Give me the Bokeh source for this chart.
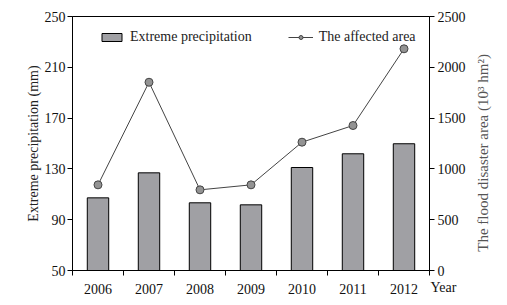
import math
from bokeh.plotting import figure
from bokeh.models import (Range1d, LinearAxis, FixedTicker, Legend, LegendItem)
from bokeh.embed import file_html
from bokeh.resources import INLINE

years = ["2006", "2007", "2008", "2009", "2010", "2011", "2012"]
precip = [107.2, 126.9, 103.3, 101.7, 131.1, 141.9, 149.8]
area = [843, 1853, 794, 843, 1263, 1427, 2182]
left_ticks = [50, 90, 130, 170, 210, 250]
right_ticks = [0, 500, 1000, 1500, 2000, 2500]

FONT = "Liberation Serif"
xs = [i + 0.5 for i in range(len(years))]

p = figure(frame_width=357, frame_height=254, output_backend="svg", toolbar_location=None,
           x_range=Range1d(0, len(years)), y_range=Range1d(50, 250),
           min_border_left=72, min_border_right=70, min_border_top=16, min_border_bottom=30)
p.extra_y_ranges = {"right": Range1d(0, 2500)}
p.xgrid.visible = False
p.ygrid.visible = False
p.outline_line_color = "black"
p.outline_line_width = 1
p.background_fill_color = "white"
p.border_fill_color = "white"

bars = p.vbar(x=xs, top=precip, bottom=50, width=0.42, fill_color="#a0a0a4",
              line_color="black", line_width=1)
ln = p.line(x=xs, y=area, y_range_name="right", line_color="#444444", line_width=1)
pts = p.scatter(x=xs, y=area, y_range_name="right", size=8, fill_color="#939393",
                line_color="#444444", line_width=1)

# x axis
xa = p.xaxis[0]
xa.ticker = FixedTicker(ticks=xs, minor_ticks=list(range(len(years) + 1)))
xa.major_label_overrides = {x: y for x, y in zip(xs, years)}
xa.major_tick_out = 0
xa.major_tick_in = 0
xa.minor_tick_out = 5
xa.minor_tick_in = 0
xa.major_label_standoff = 8
xa.major_label_text_font = FONT
xa.major_label_text_font_size = "14px"
xa.major_label_text_color = "#111111"
xa.axis_line_color = "black"
xa.axis_label = "\u00a0" * 8 + "Year"
xa.axis_label_align = "end"
xa.axis_label_standoff = -17
xa.axis_label_text_font = FONT
xa.axis_label_text_font_size = "14px"
xa.axis_label_text_font_style = "normal"
xa.axis_label_text_color = "#111111"

# left axis
ya = p.yaxis[0]
ya.ticker = FixedTicker(ticks=left_ticks)
ya.major_tick_out = 5
ya.major_tick_in = 0
ya.minor_tick_out = 0
ya.major_label_standoff = 2
ya.major_label_text_font = FONT
ya.major_label_text_font_size = "14px"
ya.major_label_text_color = "#111111"
ya.axis_label = "Extreme precipitation (mm)"
ya.axis_label_text_font = FONT
ya.axis_label_text_font_size = "14px"
ya.axis_label_text_font_style = "normal"
ya.axis_label_text_color = "#222222"
ya.axis_label_standoff = 1

# right axis
ra = LinearAxis(y_range_name="right", ticker=FixedTicker(ticks=right_ticks))
ra.major_tick_out = 5
ra.major_tick_in = 0
ra.minor_tick_out = 0
ra.major_label_standoff = 3
ra.major_label_text_font = FONT
ra.major_label_text_font_size = "14px"
ra.major_label_text_color = "#111111"
ra.axis_label = "\u00a0" * 5 + "The flood disaster area (10³ hm²)"
ra.axis_label_orientation = math.pi / 2
ra.axis_label_align = "start"
ra.axis_label_text_font = FONT
ra.axis_label_text_font_size = "15px"
ra.axis_label_text_font_style = "normal"
ra.axis_label_text_color = "#555555"
ra.axis_label_standoff = 14
p.add_layout(ra, "right")

legend = Legend(items=[LegendItem(label="Extreme precipitation", renderers=[bars]),
                       LegendItem(label="The affected area", renderers=[ln, pts])],
                orientation="horizontal", location=(27, 225), padding=0, margin=0,
                spacing=36, glyph_width=25, glyph_height=10, label_standoff=6,
                label_text_font=FONT, label_text_font_size="14px",
                label_text_color="#222222", border_line_color=None,
                background_fill_alpha=0)
p.add_layout(legend, "center")

open("out.html", "w").write(file_html(p, INLINE))
